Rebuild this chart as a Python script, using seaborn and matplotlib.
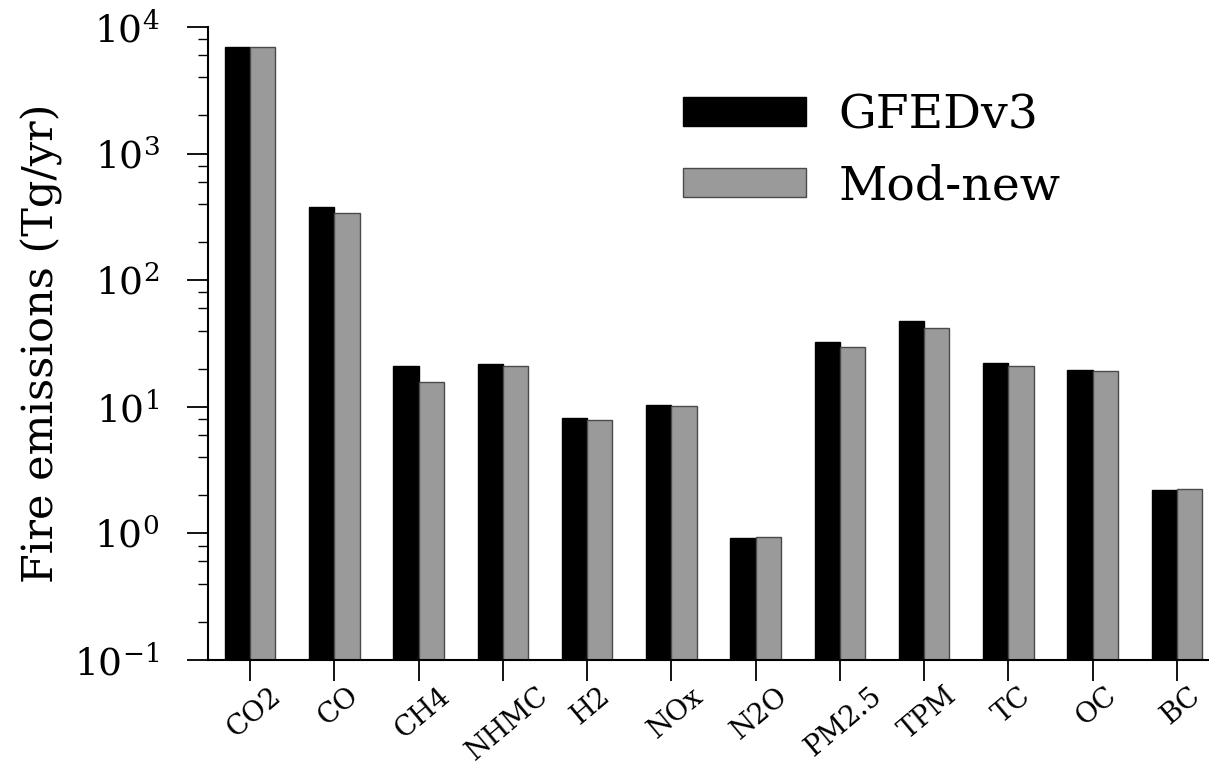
import matplotlib
matplotlib.use("Agg")
import matplotlib.pyplot as plt
import matplotlib.ticker as mticker
import matplotlib.transforms as mtransforms
import numpy as np
import pandas as pd
import seaborn as sns

# values (Tg/yr)
species = ["CO2", "CO", "CH4", "NHMC", "H2", "NOx", "N2O", "PM2.5", "TPM", "TC", "OC", "BC"]
gfedv3 = [7000, 377, 21.1, 21.8, 8.1, 10.3, 0.925, 32.5, 47.9, 22.3, 19.4, 2.20]
mod_new = [7000, 337, 15.8, 21.0, 7.8, 10.1, 0.937, 29.9, 41.7, 20.9, 19.1, 2.23]
series = ["GFEDv3", "Mod-new"]
y_ticks = [0.1, 1, 10, 100, 1000, 10000]
y_tick_labels = ["$10^{-1}$", "$10^{0}$", "$10^{1}$", "$10^{2}$", "$10^{3}$", "$10^{4}$"]

df = pd.DataFrame({
    "species": species * 2,
    "emis": gfedv3 + mod_new,
    "run": [series[0]] * len(species) + [series[1]] * len(species),
})

sns.set_style("ticks")
plt.rcParams["font.family"] = ["DejaVu Serif"]
plt.rcParams["mathtext.fontset"] = "dejavuserif"
for key in ["text.color", "axes.labelcolor", "xtick.color", "ytick.color", "axes.edgecolor"]:
    plt.rcParams[key] = "black"

fig = plt.figure(figsize=(12.09, 7.64), dpi=100)
ax = fig.add_axes([208 / 1209, 1 - 660 / 764, 1 - 208 / 1209, (660 - 27) / 764])

sns.barplot(data=df, x="species", y="emis", hue="run", order=species,
            hue_order=series, palette={"GFEDv3": "black", "Mod-new": "#9a9a9a"},
            saturation=1, width=0.6, ax=ax)

edge_cols = ["black", "#4a4a4a"]
for cont, ec in zip(ax.containers, edge_cols):
    for bar in cont:
        bar.set_edgecolor(ec)
        bar.set_linewidth(1.0)

ax.set_yscale("log")
ax.set_ylim(0.1, 1e4)
ax.set_xlim(-0.5, 11.38)
ax.set_yticks(y_ticks)
ax.set_yticklabels(y_tick_labels)
ax.yaxis.set_minor_locator(mticker.LogLocator(base=10, subs=(2, 4, 6, 8)))
ax.yaxis.set_minor_formatter(mticker.NullFormatter())

ax.tick_params(axis="y", which="major", direction="out", length=15, width=1.3,
               labelsize=27, pad=20)
ax.tick_params(axis="y", which="minor", direction="out", length=7.5, width=1.0)
ax.tick_params(axis="x", which="major", direction="out", length=15, width=1.3,
               labelsize=20, pad=1)
shift = mtransforms.ScaledTranslation(4 / 100, 0, fig.dpi_scale_trans)
for lab in ax.get_xticklabels():
    lab.set_rotation(40)
    lab.set_ha("center")
    lab.set_va("top")
    lab.set_transform(lab.get_transform() + shift)

sns.despine(ax=ax)
for side in ["left", "bottom"]:
    ax.spines[side].set_linewidth(1.5)

ax.set_xlabel("")
ax.set_ylabel("Fire emissions (Tg/yr)", fontsize=31, labelpad=8)

leg = ax.legend(loc="upper left", bbox_to_anchor=(683 / 1209, 1 - 93 / 764),
                bbox_transform=fig.transFigure, frameon=False, fontsize=34,
                handlelength=2.6, handleheight=0.57, handletextpad=0.7,
                labelspacing=0.55, borderpad=0, borderaxespad=0)
for h, ec in zip(leg.legend_handles, edge_cols):
    h.set_edgecolor(ec)
    h.set_linewidth(1.0)

fig.savefig("out.png", dpi=100)
